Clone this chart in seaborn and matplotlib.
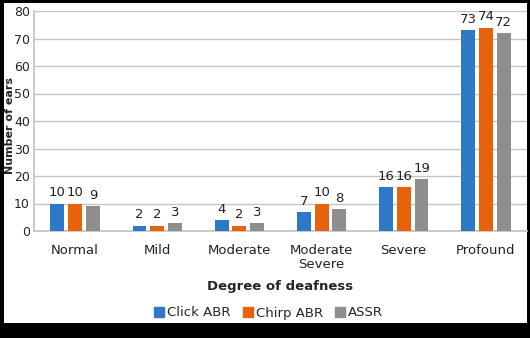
import matplotlib
matplotlib.use("Agg")
import matplotlib.pyplot as plt
import pandas as pd
import seaborn as sns
from matplotlib.patches import Rectangle

categories = ["Normal", "Mild", "Moderate", "Moderate\nSevere", "Severe", "Profound"]
click_abr = [10, 2, 4, 7, 16, 73]
chirp_abr = [10, 2, 2, 10, 16, 74]
assr = [9, 3, 3, 8, 19, 72]
series_names = ["Click ABR", "Chirp ABR", "ASSR"]
palette = ["#2E78C8", "#E8620C", "#8E8E8E"]

df = pd.DataFrame({
    "degree": categories * 3,
    "method": [n for n in series_names for _ in categories],
    "ears": click_abr + chirp_abr + assr,
})

sns.set_theme(style="white")
plt.rcParams["font.family"] = ["DejaVu Sans"]

W, H = 530, 338
fig = plt.figure(figsize=(W / 100, H / 100), dpi=100, facecolor="black")
fig.patches.append(Rectangle((4 / W, 1 - 323 / H), 523 / W, 320 / H,
                             transform=fig.transFigure, facecolor="white",
                             edgecolor="none", zorder=-5))
ax = fig.add_axes([34 / W, 1 - 231 / H, 493 / W, 220 / H])
ax.set_facecolor("white")

sns.barplot(data=df, x="degree", y="ears", hue="method", palette=palette,
            width=0.65, gap=0.22, saturation=1, linewidth=0,
            ax=ax, legend=False, zorder=3)

for cont in ax.containers:
    ax.bar_label(cont, padding=3, fontsize=9.5, color="#222222")

ax.set_ylim(0, 80)
ax.set_yticks(range(0, 81, 10))
ax.yaxis.grid(True, color="#C4C4C4", linewidth=1)
ax.set_axisbelow(True)
for side in ["top", "right"]:
    ax.spines[side].set_visible(False)
for side in ["left", "bottom"]:
    ax.spines[side].set_color("#C4C4C4")
ax.tick_params(axis="both", length=0, labelsize=9.5, colors="#222222")
ax.tick_params(axis="x", pad=9)
ax.tick_params(axis="y", pad=3, labelsize=9)
ax.set_xlabel("Degree of deafness", fontsize=9.5, fontweight="bold", labelpad=6)
ax.set_ylabel("Number of ears", fontsize=8, fontweight="bold")
ax.yaxis.set_label_coords(-19 / 493, 105 / 220)
ax.set_xlim(-0.5, 5.5)

handles = [plt.Line2D([], [], marker="s", linestyle="none", markersize=7,
                      color=c) for c in palette]
fig.legend(handles, series_names, loc="center", bbox_to_anchor=(268 / W, 1 - 313 / H),
           ncol=3, frameon=False, fontsize=9.5, handletextpad=0.1,
           columnspacing=0.8, handlelength=1)

fig.savefig("out.png", dpi=100, facecolor="black")
